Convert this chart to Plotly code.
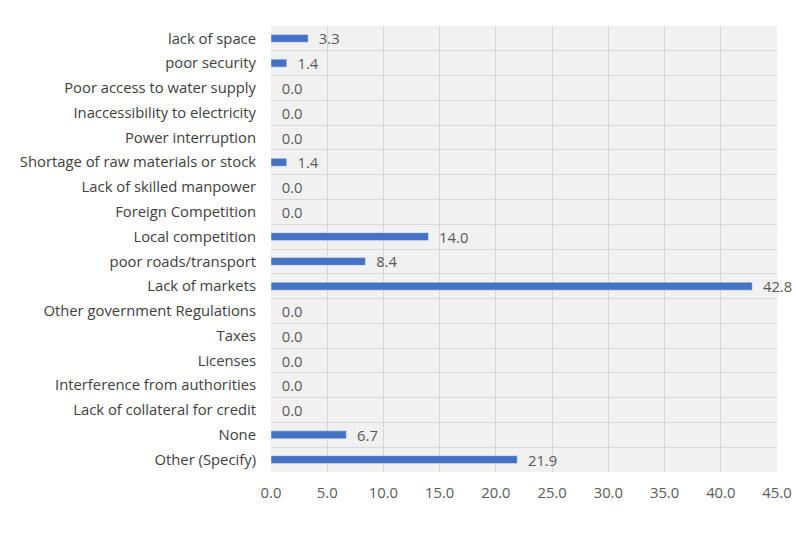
import plotly.graph_objects as go

categories = [
    "lack of space", "poor security", "Poor access to water supply",
    "Inaccessibility to electricity", "Power interruption",
    "Shortage of raw materials or stock", "Lack of skilled manpower",
    "Foreign Competition", "Local competition", "poor roads/transport",
    "Lack of markets", "Other government Regulations", "Taxes", "Licenses",
    "Interference from authorities", "Lack of collateral for credit",
    "None", "Other (Specify)",
]
values = [3.3, 1.4, 0.0, 0.0, 0.0, 1.4, 0.0, 0.0, 14.0, 8.4, 42.8,
          0.0, 0.0, 0.0, 0.0, 0.0, 6.7, 21.9]
x_ticks = [0, 5, 10, 15, 20, 25, 30, 35, 40, 45]

ypos = list(range(len(categories)))

FS = 14.8

fig = go.Figure(go.Bar(
    x=values, y=ypos, orientation="h", width=0.32,
    marker=dict(color="#4472C4"),
    text=[f"\u00a0\u00a0{v:.1f}" for v in values], textposition="outside",
    constraintext="none",
    textfont=dict(color="#595959", size=FS, family="Open Sans"),
    cliponaxis=False,
))

fig.update_layout(
    width=796, height=539,
    margin=dict(l=271, r=19, t=26, b=67),
    paper_bgcolor="white", plot_bgcolor="#f1f1f1",
    showlegend=False,
    font=dict(family="Open Sans", size=FS, color="#404040"),
)
fig.update_xaxes(
    range=[0, 45], tickvals=x_ticks, ticktext=[f"{t:.1f}" for t in x_ticks],
    showgrid=True, gridcolor="#d6d6d6", gridwidth=1, zeroline=False,
    tickfont=dict(color="#595959", size=FS), ticks="", ticklen=0,
    ticklabelstandoff=10,
    automargin=False, ticklabeloverflow="allow",
)
fig.update_yaxes(
    range=[len(categories) - 0.5, -0.5], tickvals=ypos, ticktext=categories,
    showgrid=False, zeroline=False, ticks="", ticklabelstandoff=14,
    tickfont=dict(color="#404040", size=FS), automargin=False,
    minor=dict(tickvals=[i - 0.5 for i in range(len(categories) + 1)],
               showgrid=True, gridcolor="#dadada", gridwidth=1, ticks=""),
)

fig.write_html(
    "out.html",
    config={"displayModeBar": False},
    post_script="document.body.style.margin='0';document.body.style.overflow='hidden';",
)
